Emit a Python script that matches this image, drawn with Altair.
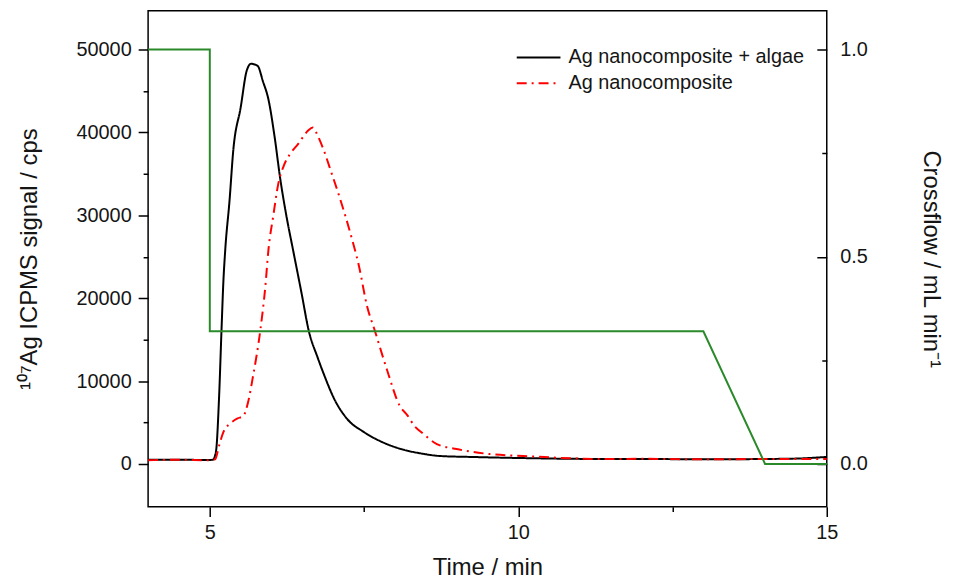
import altair as alt
import pandas as pd

# ---- data ----
series_names = ["Ag nanocomposite + algae", "Ag nanocomposite"]
series_colors = ["#000000", "#ff0000"]
series_dash = [[1, 0], [10, 5, 2, 5]]

time_algae = [4.0, 4.5, 4.9, 5.05, 5.10, 5.15, 5.19, 5.22, 5.25, 5.32, 5.38, 5.50,
              5.60, 5.67, 5.73, 5.78, 5.86, 5.95, 6.05, 6.14, 6.24, 6.35, 6.49,
              6.60, 6.75, 6.85, 7.02, 7.23, 7.50, 7.87, 8.20, 8.40, 8.73, 9.27,
              10.0, 11.4, 12.0, 13.0, 14.0, 14.5, 14.8, 15.0]
signal_algae = [500, 520, 480, 500, 1500, 8000, 16200, 22000, 25800, 31800, 37800, 43000,
                47500, 48300, 48200, 48000, 46200, 44000, 39500, 34500, 30000, 25800, 20500,
                16200, 12800, 10800, 7800, 5400, 3840, 2400, 1600, 1300, 960, 840,
                720, 600, 600, 560, 600, 650, 750, 850]

time_nano = [4.0, 4.5, 5.0, 5.09, 5.15, 5.22, 5.35, 5.45, 5.54, 5.62, 5.70, 5.82,
             5.90, 5.95, 6.03, 6.11, 6.20, 6.30, 6.43, 6.59, 6.67, 6.75, 6.85, 6.96,
             7.12, 7.28, 7.42, 7.55, 7.67, 7.87, 8.08, 8.20, 8.32, 8.45, 8.68, 9.0,
             9.53, 10.08, 11.4, 12.0, 13.0, 14.0, 15.0]
signal_nano = [450, 500, 450, 600, 2200, 3840, 5000, 5500, 5760, 7440, 10560, 16200,
               21400, 25800, 30000, 33800, 36000, 37400, 38600, 40200, 40600, 39600, 37800, 35400,
               31800, 27800, 23800, 19000, 16200, 11400, 7000, 5900, 4560, 3700, 2400, 1800,
               1200, 960, 600, 620, 560, 600, 600]

flow_time = [4, 5, 5, 13, 14, 15]
flow_value = [1.0, 1.0, 0.32, 0.32, 0.0, 0.0]

x_ticks = [5, 7.5, 10, 12.5, 15]
left_ticks = [0, 5000, 10000, 15000, 20000, 25000, 30000, 35000, 40000, 45000, 50000]
right_ticks = [0, 0.25, 0.5, 0.75, 1.0]

# ---- tables ----
sig = pd.concat([
    pd.DataFrame({"t": time_algae, "v": signal_algae, "s": series_names[0]}),
    pd.DataFrame({"t": time_nano, "v": signal_nano, "s": series_names[1]}),
], ignore_index=True)
flow = pd.DataFrame({"t": flow_time, "f": flow_value, "i": list(range(len(flow_time)))})

FONT = "Liberation Sans"
TXT = "#151515"

x_enc = alt.X(
    "t:Q",
    scale=alt.Scale(domain=[4, 15], nice=False, zero=False),
    axis=alt.Axis(
        values=x_ticks, title="Time / min", orient="bottom",
        tickSize=10,
        tickDash={"condition": {"test": "datum.value % 5 !== 0", "value": [5, 20]}, "value": [1, 0]},
        labelExpr="datum.value % 5 === 0 ? format(datum.value, 'd') : ''",
        labelFontSize=20, labelPadding=6, titleFontSize=24, titlePadding=13,
    ),
)

y_left = alt.Y(
    "v:Q",
    scale=alt.Scale(domain=[-5150, 54680], nice=False, zero=False),
    axis=alt.Axis(
        orient="left", values=left_ticks, title="¹⁰⁷Ag ICPMS signal / cps",
        tickSize=10,
        tickDash={"condition": {"test": "datum.value % 10000 !== 0", "value": [5, 20]}, "value": [1, 0]},
        labelExpr="datum.value % 10000 === 0 ? format(datum.value, 'd') : ''",
        labelFontSize=20, labelPadding=7, titleFontSize=24, titlePadding=35,
    ),
)

y_right = alt.Y(
    "f:Q",
    scale=alt.Scale(domain=[-0.103, 1.0936], nice=False, zero=False),
    axis=alt.Axis(
        orient="right", offset=-10, values=right_ticks, title="Crossflow / mL min⁻¹",
        tickSize=10,
        tickDash={"condition": {"test": "round(datum.value * 4) % 2 !== 0", "value": [0, 5, 5, 0]},
                  "value": [1, 0]},
        labelExpr="round(datum.value * 4) % 2 === 0 ? format(datum.value, '.1f') : ''",
        labelFontSize=20, labelPadding=13, titleFontSize=24, titlePadding=52,
    ),
)

legend = alt.Legend(
    orient="none", legendX=381, legendY=35, title=None, padding=0,
    symbolType="M-2,0H2", symbolSize=484, symbolStrokeWidth=2,
    labelFontSize=20, labelFont=FONT, labelColor=TXT, labelOffset=18, rowPadding=4,
    labelLimit=0,
)

signals = alt.Chart(sig).mark_line(strokeWidth=2, interpolate="monotone").encode(
    x=x_enc,
    y=y_left,
    color=alt.Color("s:N", scale=alt.Scale(domain=series_names, range=series_colors), legend=legend),
    strokeDash=alt.StrokeDash("s:N", scale=alt.Scale(domain=series_names, range=series_dash), legend=legend),
)

crossflow = alt.Chart(flow).mark_line(strokeWidth=2, color="#2a8a2a").encode(
    x=x_enc,
    y=y_right,
    order=alt.Order("i:Q"),
)

chart = alt.layer(signals, crossflow).resolve_scale(y="independent").properties(
    width=683, height=499,
    autosize=alt.AutoSizeParams(type="none"),
    padding={"left": 141, "top": 1, "right": 120, "bottom": 72},
).configure_view(
    stroke="black", strokeWidth=1.5,
).configure_axis(
    labelFont=FONT, titleFont=FONT, labelColor=TXT, titleColor=TXT,
    titleFontWeight="normal", grid=False, domain=False,
    tickColor="black", tickWidth=1.5, labelFlush=False, labelOverlap=False,
)

chart.save("out.html", embed_options={"renderer": "svg", "actions": False})
